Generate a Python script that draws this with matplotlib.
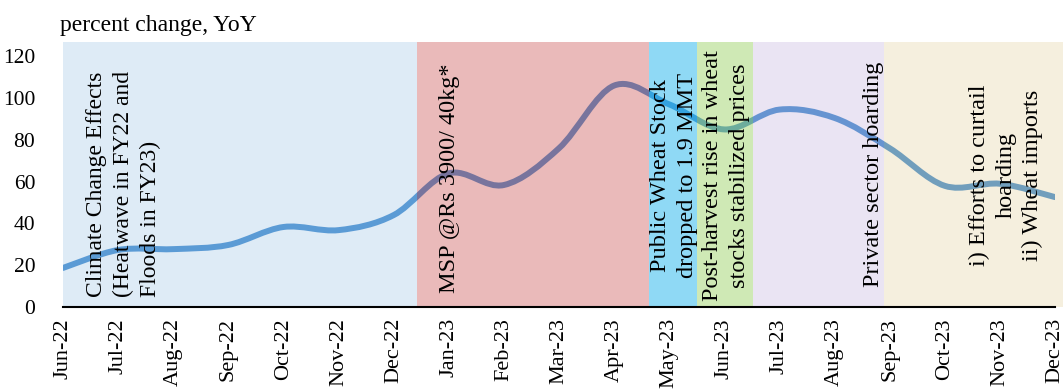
import matplotlib
matplotlib.use("Agg")
import matplotlib.pyplot as plt
import numpy as np
from matplotlib.path import Path
from matplotlib.patches import PathPatch

plt.rcParams['font.family'] = ['Liberation Serif', 'DejaVu Serif']

months = ['Jun-22', 'Jul-22', 'Aug-22', 'Sep-22', 'Oct-22', 'Nov-22', 'Dec-22',
          'Jan-23', 'Feb-23', 'Mar-23', 'Apr-23', 'May-23', 'Jun-23', 'Jul-23',
          'Aug-23', 'Sep-23', 'Oct-23', 'Nov-23', 'Dec-23']
wheat_yoy = [18.7, 27.3, 27.7, 29.7, 38.3, 36.8, 44.0, 64.0, 58.4, 76.0,
             106.0, 97.0, 85.0, 94.5, 90.5, 76.0, 58.0, 59.0, 52.6]

# shaded phases: (start, end) in month-index units
phase_start = [0, 6.42, 10.64, 11.51, 12.52, 14.9]
phase_end = [6.42, 10.64, 11.51, 12.52, 14.9, 18.15]
phase_color = ['#5b9bd5', '#bc1c1c', '#07abe9', '#89c848', '#9678c3', '#cdaf5a']
phase_alpha = [0.2, 0.3, 0.45, 0.4, 0.2, 0.2]

notes = ['Climate Change Effects\n(Heatwave in FY22 and\nFloods in FY23)',
         'MSP @Rs 3900/ 40kg*',
         'Public Wheat Stock\ndropped to 1.9 MMT',
         'Post-harvest rise in wheat\nstocks stabilized prices',
         'Private sector hoarding',
         'i) Efforts to curtail\nhoarding\nii) Wheat imports']
note_x = [1.1, 7.02, 11.09, 12.03, 14.7, 17.11]
note_y = [4.8, 6.7, 63, 63, 63.5, 63]


def smooth_path(x, y):
    # excel-style smoothed line drawn as cubic bezier segments
    pts = np.column_stack([x, y])
    n = len(pts)
    verts = [pts[0]]
    codes = [Path.MOVETO]
    for i in range(n - 1):
        p0 = pts[max(i - 1, 0)]
        p1 = pts[i]
        p2 = pts[i + 1]
        p3 = pts[min(i + 2, n - 1)]
        verts += [p1 + (p2 - p0) / 6, p2 - (p3 - p1) / 6, p2]
        codes += [Path.CURVE4] * 3
    return Path(verts, codes)


fig = plt.figure(figsize=(10.63, 3.9), dpi=100)
ax = fig.add_axes([63 / 1063, 83 / 390, 992 / 1063, 265.3 / 390])

xs = np.arange(len(months))
ax.add_patch(PathPatch(smooth_path(xs, wheat_yoy), facecolor='none',
                       edgecolor='#5b9bd5', lw=4.3, capstyle='round', zorder=2))

for s, e, c, a in zip(phase_start, phase_end, phase_color, phase_alpha):
    span = ax.axvspan(s, e, color=c, alpha=a, lw=0, zorder=3)
    span.set_clip_on(False)

fs = 17.5
ax.text(note_x[0], note_y[0], notes[0], rotation=90, ha='center', va='bottom',
        multialignment='left', fontsize=17, linespacing=1.38, zorder=5)
ax.text(note_x[1], note_y[1], notes[1], rotation=90, ha='center', va='bottom',
        fontsize=fs, zorder=5)
for i in range(2, len(notes)):
    ax.text(note_x[i], note_y[i], notes[i], rotation=90, ha='center', va='center',
            multialignment='center', fontsize=fs, linespacing=1.35, zorder=5)

ax.set_xlim(0, 18)
ax.set_ylim(0, 127)
ax.set_yticks(range(0, 121, 20))
ax.set_xticks(xs)
ax.set_xticklabels(months, rotation=90)
ax.tick_params(axis='y', length=0, labelsize=15.5, pad=20)
ax.tick_params(axis='x', length=0, labelsize=16, pad=8)
for side in ['left', 'right', 'top']:
    ax.spines[side].set_visible(False)
ax.spines['bottom'].set_linewidth(1.5)
ax.spines['bottom'].set_zorder(6)

fig.text(60 / 1063, 1 - 31 / 390, 'percent change, YoY', fontsize=17, va='baseline')

fig.savefig('out.png', dpi=100)
